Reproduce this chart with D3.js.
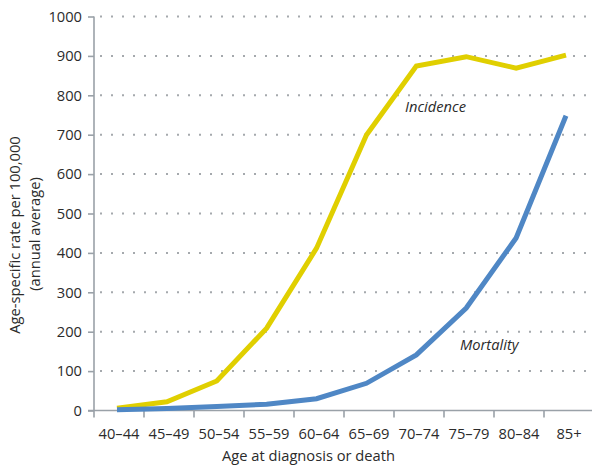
<!DOCTYPE html>
<html><head><meta charset="utf-8">
<script src="https://cdn.jsdelivr.net/npm/d3@7"></script>
<style>body{margin:0;background:#fff}svg{display:block}text{font-family:"Open Sans",sans-serif;fill:#2b2b2b}</style>
</head><body><svg id="c" width="592" height="470"></svg>
<script>
const categories = ["40–44","45–49","50–54","55–59","60–64","65–69","70–74","75–79","80–84","85+"];
const incidence = [6, 22, 75, 209, 412, 699, 874, 898, 869, 902];
const mortality = [2, 5, 10, 16, 30, 69, 141, 260, 438, 748];
const yTicks = [0,100,200,300,400,500,600,700,800,900,1000];

const svg = d3.select("#c");
const fs = "14.7px";
const x0 = 94, x1 = 594, yTop = 16.5, yBot = 410.5;
const band = d3.scaleBand().domain(categories).range([x0, x1]);
const xp = d3.scalePoint().domain(categories).range([117, 566]);
const y = d3.scaleLinear().domain([0, 1000]).range([yBot, yTop]);
const axisCol = "#9aa1a8";

// gridlines
svg.append("g").selectAll("line").data(yTicks.slice(1)).join("line")
  .attr("x1", x0 + 6).attr("x2", 592).attr("y1", d => y(d)).attr("y2", d => y(d))
  .attr("stroke", "#a5a9ad").attr("stroke-width", 2).attr("stroke-dasharray", "2,9");

// y axis
const ya = svg.append("g").attr("transform", `translate(${x0},0)`)
  .call(d3.axisLeft(y).tickValues(yTicks).tickSize(6).tickPadding(6).tickFormat(d3.format("d")));
ya.select(".domain").attr("stroke", axisCol).attr("stroke-width", 1.6).attr("d", `M0,${yTop}V${yBot}`);
ya.selectAll(".tick line").attr("stroke", axisCol).attr("stroke-width", 1.6);
ya.selectAll(".tick text").style("font-size", fs).style("font-family", "Open Sans").attr("fill", "#2b2b2b");

// x axis
const xa = svg.append("g").attr("transform", `translate(0,${yBot})`);
xa.append("line").attr("x1", x0 - 6).attr("x2", 592).attr("stroke", axisCol).attr("stroke-width", 1.6);
xa.selectAll("line.t").data(categories).join("line").attr("class","t")
  .attr("x1", d => band(d)).attr("x2", d => band(d)).attr("y1", 0).attr("y2", 7)
  .attr("stroke", axisCol).attr("stroke-width", 1.6);
xa.selectAll("text").data(categories).join("text")
  .attr("x", d => band(d) + band.bandwidth() / 2).attr("y", 28.5)
  .attr("text-anchor", "middle").style("font-size", fs).text(d => d);

// lines
const line = d3.line().x((d, i) => xp(categories[i])).y(d => y(d));
svg.append("path").datum(incidence).attr("d", line).attr("fill", "none")
  .attr("stroke", "#e0cf00").attr("stroke-width", 5);
svg.append("path").datum(mortality).attr("d", line).attr("fill", "none")
  .attr("stroke", "#4f87c5").attr("stroke-width", 5);

// labels
svg.append("text").attr("x", 405).attr("y", 112).style("font-size", fs).style("font-style", "italic").text("Incidence");
svg.append("text").attr("x", 460).attr("y", 350).style("font-size", fs).style("font-style", "italic").text("Mortality");

// titles
svg.append("text").attr("x", 308.5).attr("y", 460.5).attr("text-anchor", "middle").style("font-size", fs).text("Age at diagnosis or death");
svg.append("text").attr("transform", "translate(20,235) rotate(-90)").attr("text-anchor", "middle").style("font-size", fs).text("Age-specific rate per 100,000");
svg.append("text").attr("transform", "translate(39.5,234) rotate(-90)").attr("text-anchor", "middle").style("font-size", fs).text("(annual average)");
</script></body></html>
